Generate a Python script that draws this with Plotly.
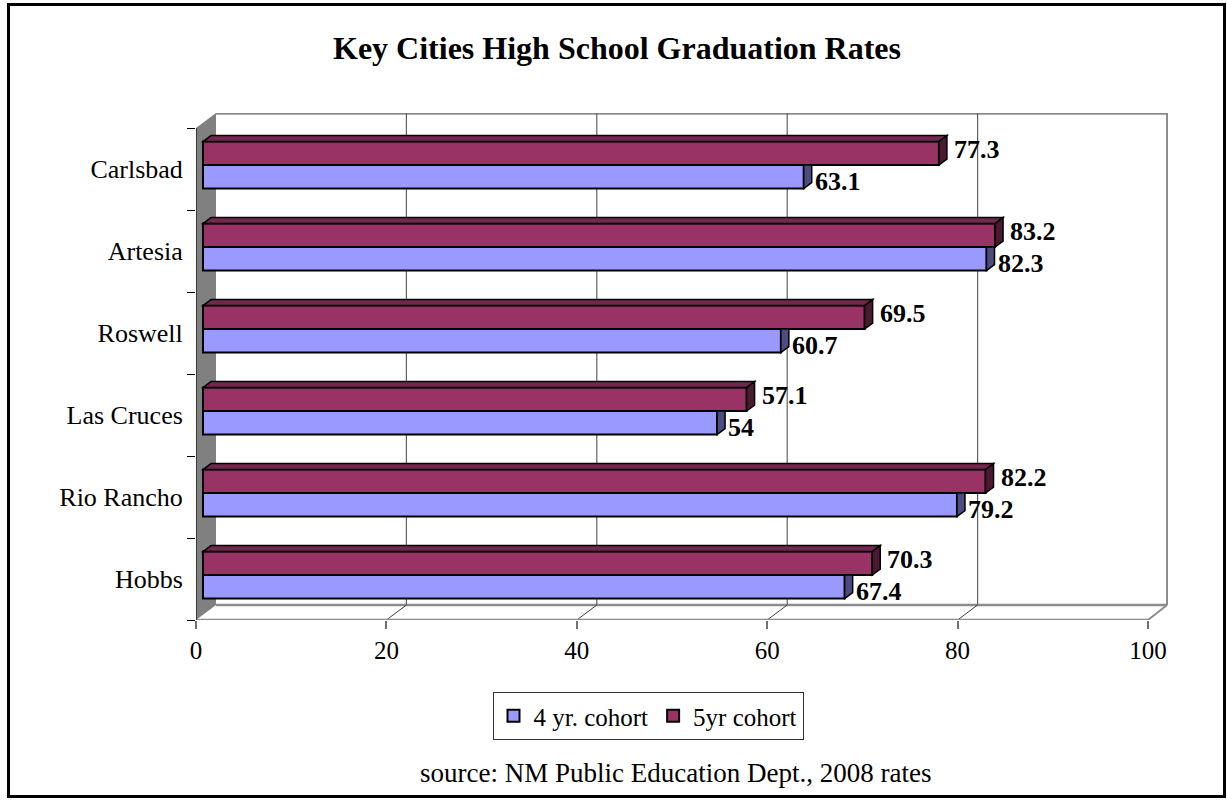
import plotly.graph_objects as go

# ---- data -------------------------------------------------------------
cities = ["Carlsbad", "Artesia", "Roswell", "Las Cruces", "Rio Rancho", "Hobbs"]
cohort_4yr = [63.1, 82.3, 60.7, 54, 79.2, 67.4]
cohort_5yr = [77.3, 83.2, 69.5, 57.1, 82.2, 70.3]
x_ticks = [0, 20, 40, 60, 80, 100]

# ---- geometry ---------------------------------------------------------
W, H = 1227, 805
L, R, T, B = 196, 59, 113, 185          # plot area margins (px)
PW, PH = W - L - R, H - T - B

PX_PER_X = 9.52                         # px per percentage point
X_MAX = PW / PX_PER_X
BAND = 82.0                             # px per category band
DEPTH_X = 20 / PX_PER_X                 # wall depth (x units)
DEPTH_Y = 15 / BAND                     # wall depth (y units)
Y_BOT = len(cities) - 0.5
Y_TOP = -0.5 - DEPTH_Y

BAR_SHIFT = 7 / PX_PER_X                # bars sit a little behind the front plane
BAR_W = 0.287
OFF_5 = -0.335
OFF_4 = -0.049
FACE_DX = 8 / PX_PER_X                  # bar depth
FACE_DY = 6 / BAND

C4, C4_SIDE = "#9999FF", "#4C4C80"
C5, C5_SIDE, C5_TOP = "#993366", "#4C1933", "#732650"
FONT = "Times New Roman, Liberation Serif, serif"


def xp(px):
    return (px - L) / PW


def yp(py):
    return (H - B - py) / PH


ypos = list(range(len(cities)))

fig = go.Figure()
fig.add_trace(go.Bar(
    y=ypos, x=cohort_4yr, orientation="h", name="4 yr. cohort",
    width=BAR_W, offset=OFF_4, marker=dict(color=C4, line=dict(color="black", width=2)),
    xaxis="x2", yaxis="y",
))
fig.add_trace(go.Bar(
    y=ypos, x=cohort_5yr, orientation="h", name="5yr cohort",
    width=BAR_W, offset=OFF_5, marker=dict(color=C5, line=dict(color="black", width=2)),
    xaxis="x2", yaxis="y",
))

shapes = []
# left wall
shapes.append(dict(type="path", xref="x", yref="y", layer="below",
                   path=f"M 0,{-0.5} L {DEPTH_X},{Y_TOP} L {DEPTH_X},{Y_BOT - DEPTH_Y} L 0,{Y_BOT} Z",
                   fillcolor="#808080", line=dict(width=0)))
# back wall edges
shapes.append(dict(type="line", xref="x", yref="y", layer="below",
                   x0=DEPTH_X, x1=X_MAX, y0=Y_TOP + 0.01, y1=Y_TOP + 0.01,
                   line=dict(color="#8c8c8c", width=2)))
shapes.append(dict(type="line", xref="x", yref="y", layer="below",
                   x0=X_MAX - 0.1, x1=X_MAX - 0.1, y0=Y_TOP, y1=Y_BOT - DEPTH_Y,
                   line=dict(color="#8c8c8c", width=2)))
# floor edges
shapes.append(dict(type="line", xref="x", yref="y", layer="below",
                   x0=DEPTH_X, x1=X_MAX - 0.1, y0=Y_BOT - DEPTH_Y, y1=Y_BOT - DEPTH_Y,
                   line=dict(color="#8c8c8c", width=2.5)))
shapes.append(dict(type="line", xref="x", yref="y", layer="below",
                   x0=100, x1=X_MAX - 0.1, y0=Y_BOT, y1=Y_BOT - DEPTH_Y,
                   line=dict(color="#8c8c8c", width=2)))
# back gridlines and floor diagonals
for v in x_ticks[1:-1]:
    shapes.append(dict(type="line", xref="x", yref="y", layer="below",
                       x0=v + DEPTH_X, x1=v + DEPTH_X, y0=Y_TOP, y1=Y_BOT - DEPTH_Y,
                       line=dict(color="#606060", width=1.2)))
    shapes.append(dict(type="line", xref="x", yref="y", layer="below",
                       x0=v, x1=v + DEPTH_X, y0=Y_BOT, y1=Y_BOT - DEPTH_Y,
                       line=dict(color="#404040", width=1)))
# front axis lines
shapes.append(dict(type="line", xref="x", yref="y", layer="above",
                   x0=0, x1=100, y0=Y_BOT, y1=Y_BOT, line=dict(color="#8c8c8c", width=2.5)))
shapes.append(dict(type="line", xref="x", yref="y", layer="above",
                   x0=0, x1=0, y0=-0.5, y1=Y_BOT, line=dict(color="#202020", width=1.5)))


# 3-D faces of the bars (drawn on the x axis, shifted to the bar plane)
def right_face(v, y0, y1, side, hidden_top):
    xe = v + BAR_SHIFT
    top = y0 if hidden_top else y0 - FACE_DY
    return dict(type="path", xref="x", yref="y", layer="above",
                path=(f"M {xe},{y0} L {xe + FACE_DX},{top} L {xe + FACE_DX},{y1 - FACE_DY} "
                      f"L {xe},{y1} Z"),
                fillcolor=side, line=dict(color="black", width=1.5))


for i, v in zip(ypos, cohort_4yr):
    y0 = i + OFF_4
    # upper part of the side face sits behind the 5yr bar
    shapes.append(right_face(v, y0, y0 + BAR_W, C4_SIDE, True))

for i, v in zip(ypos, cohort_5yr):
    y0 = i + OFF_5
    x0 = BAR_SHIFT
    xe = v + BAR_SHIFT
    shapes.append(dict(type="path", xref="x", yref="y", layer="above",
                       path=(f"M {x0},{y0} L {x0 + FACE_DX},{y0 - FACE_DY} "
                             f"L {xe + FACE_DX},{y0 - FACE_DY} L {xe},{y0} Z"),
                       fillcolor=C5_TOP, line=dict(color="black", width=1.5)))
    shapes.append(right_face(v, y0, y0 + BAR_W, C5_SIDE, False))

# outer chart border
shapes.append(dict(type="rect", xref="paper", yref="paper",
                   x0=xp(8.5), x1=xp(1224.5), y0=yp(4.5), y1=yp(796.5),
                   line=dict(color="black", width=3)))

annotations = []
for i, v in zip(ypos, cohort_5yr):
    annotations.append(dict(xref="x2", yref="y", x=v, y=i + OFF_5 + BAR_W / 2,
                            text=f"<b>{v:g}</b>", showarrow=False, xanchor="left",
                            xshift=13, yshift=4,
                            font=dict(family=FONT, size=26, color="black")))
for i, v in zip(ypos, cohort_4yr):
    annotations.append(dict(xref="x2", yref="y", x=v, y=i + OFF_4 + BAR_W / 2,
                            text=f"<b>{v:g}</b>", showarrow=False, xanchor="left",
                            xshift=9, yshift=-5,
                            font=dict(family=FONT, size=26, color="black")))

annotations.append(dict(xref="paper", yref="paper", x=xp(617), y=yp(48),
                        text="<b>Key Cities High School Graduation Rates</b>", showarrow=False,
                        xanchor="center", yanchor="middle",
                        font=dict(family=FONT, size=32, color="black")))
annotations.append(dict(xref="paper", yref="paper", x=xp(675), y=yp(773),
                        text="source: NM Public Education Dept., 2008 rates", showarrow=False,
                        xanchor="center", yanchor="middle",
                        font=dict(family=FONT, size=27, color="black")))

fig.update_layout(
    width=W, height=H,
    margin=dict(l=L, r=R, t=T, b=B, pad=0),
    paper_bgcolor="white", plot_bgcolor="white",
    barmode="overlay",
    font=dict(family=FONT, size=24, color="black"),
    xaxis=dict(range=[0, X_MAX], tickvals=x_ticks, ticks="outside", ticklen=8,
               tickcolor="#707070", tickwidth=1.5, showgrid=False, zeroline=False,
               showline=False, tickfont=dict(size=25)),
    xaxis2=dict(range=[-BAR_SHIFT, X_MAX - BAR_SHIFT], overlaying="x", visible=False),
    yaxis=dict(range=[Y_BOT, Y_TOP], tickvals=ypos, ticktext=cities,
               ticks="outside", ticklen=7, tickcolor="rgba(0,0,0,0)",
               minor=dict(tickvals=[k - 0.5 for k in range(len(cities) + 1)],
                          ticks="outside", ticklen=8, tickcolor="black", tickwidth=1),
               showgrid=False, zeroline=False, showline=False, tickfont=dict(size=26)),
    legend=dict(orientation="h", x=xp(648), y=yp(692), xanchor="center", yanchor="top",
                bordercolor="#303030", borderwidth=1, font=dict(size=25),
                itemwidth=30, tracegroupgap=0),
    shapes=shapes,
    annotations=annotations,
)

fig.write_html("out.html")
